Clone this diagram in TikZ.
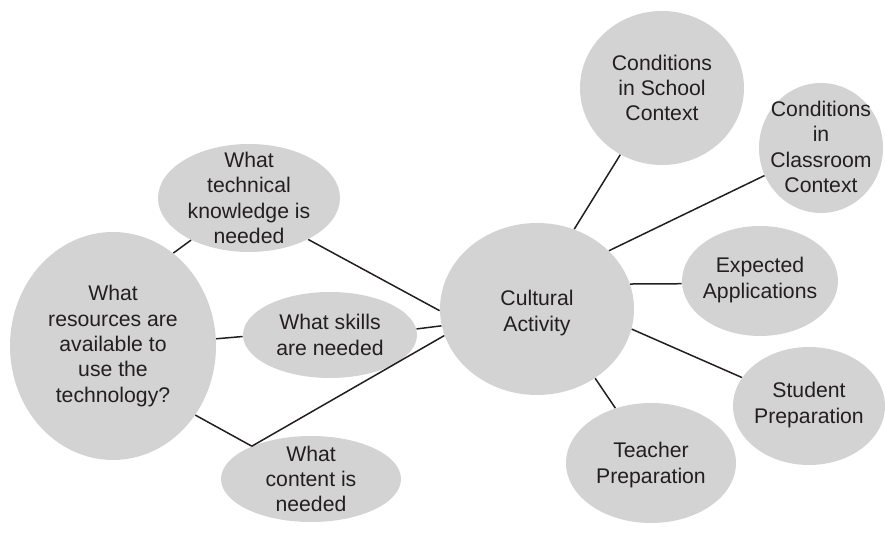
\documentclass[tikz,border=0pt]{standalone}
\usepackage{fontspec}
\setmainfont{Liberation Sans}
\usetikzlibrary{shapes.geometric}
\definecolor{bubble}{RGB}{211,211,212}
\definecolor{ink}{RGB}{35,31,32}
\tikzset{
  bub/.style={ellipse, fill=bubble, inner sep=0pt},
  lbl/.style={align=center, text=ink, inner sep=0pt,
    font=\fontsize{10.6pt}{12.7pt}\selectfont},
  link/.style={draw=ink, line width=0.75pt}
}
\begin{document}
\begin{tikzpicture}[x=0.5pt,y=-0.5pt]
\useasboundingbox (0,0) rectangle (885,544);
\node[bub, minimum width=97pt, minimum height=86pt] (cult) at (537,309) {};
\node[bub, minimum width=82pt, minimum height=77pt] (school) at (662,88) {};
\node[bub, minimum width=62pt, minimum height=65pt] (class) at (821,148) {};
\node[bub, minimum width=78pt, minimum height=55pt] (expect) at (760,281) {};
\node[bub, minimum width=76pt, minimum height=59pt] (student) at (809,406) {};
\node[bub, minimum width=85pt, minimum height=60pt] (teacher) at (651,463) {};
\node[bub, minimum width=91pt, minimum height=54pt] (tech) at (249,198) {};
\node[bub, minimum width=103pt, minimum height=114pt] (res) at (113,346) {};
\node[bub, minimum width=87pt, minimum height=43pt] (skills) at (330,335) {};
\node[bub, minimum width=90pt, minimum height=43pt] (content) at (311,479) {};
\node[lbl] (cultT) at (537,313) {Cultural\\Activity};
\node[lbl] (schoolT) at (662,88) {Conditions\\in School\\Context};
\node[lbl] (classT) at (821,147) {Conditions\\in\\Classroom\\Context};
\node[lbl] (expectT) at (760,280) {Expected\\Applications};
\node[lbl] (studentT) at (809,405) {Student\\Preparation};
\node[lbl] (teacherT) at (651,465) {Teacher\\Preparation};
\node[lbl] (techT) at (249,198) {What\\technical\\knowledge is\\needed};
\node[lbl] (resT) at (113,346) {What\\resources are\\available to\\use the\\technology?};
\node[lbl] (skillsT) at (330,335) {What skills\\are needed};
\node[lbl] (contentT) at (311,479) {What\\content is\\needed};
\draw[link] (cult.65.8) -- (school.238.5);
\draw[link] (cult.39.7) -- (class.206.6);
\draw[link] (cult.15) -- (expect.182);
\draw[link] (cult.348.6) -- (student.157);
\draw[link] (cult.310) -- (teacher.123.7);
\draw[link] (tech.325.2) -- (cult.181);
\draw[link] (skills.4.7) -- (cult.190.7);
\draw[link] (content.151) -- (cult.196.4);
\draw[link] (res.57.2) -- (tech.216.9);
\draw[link] (res.4.4) -- (skills.181.3);
\draw[link] (res.320.6) -- (content.151);
\end{tikzpicture}
\end{document}
